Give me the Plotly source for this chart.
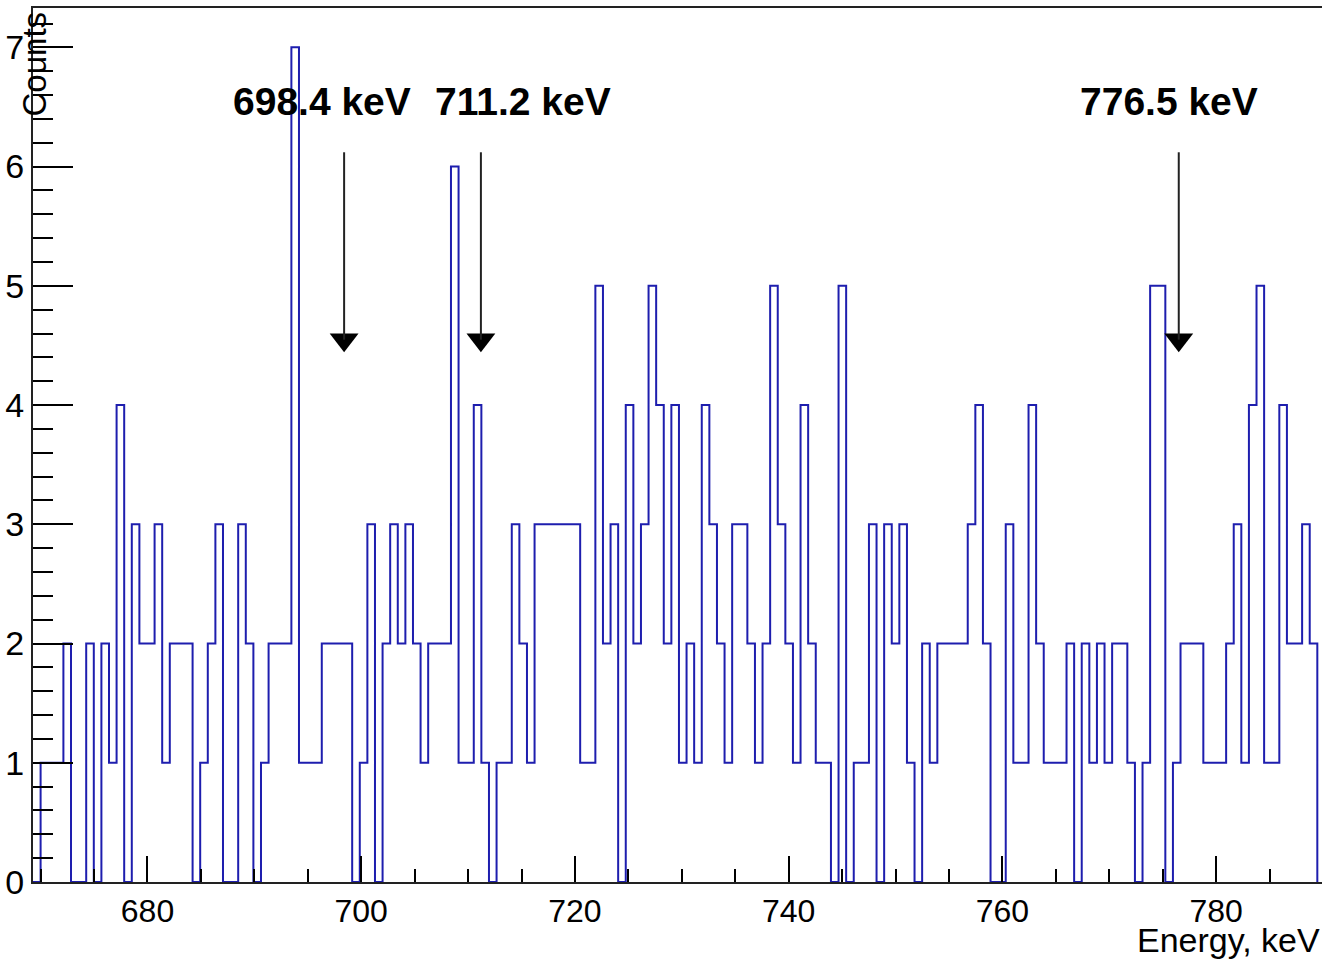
import plotly.graph_objects as go

# ---------------- data ----------------
bin_start = 669.289      # keV, lower edge of first bin
bin_width = 0.7111       # keV
counts = [
    0, 1, 1, 1, 2, 0, 0, 2, 0, 2,
    1, 4, 0, 3, 2, 2, 3, 1, 2, 2,
    2, 0, 1, 2, 3, 0, 0, 3, 2, 0,
    1, 2, 2, 2, 7, 1, 1, 1, 2, 2,
    2, 2, 0, 1, 3, 0, 2, 3, 2, 3,
    2, 1, 2, 2, 2, 6, 1, 1, 4, 1,
    0, 1, 1, 3, 2, 1, 3, 3, 3, 3,
    3, 3, 1, 1, 5, 2, 3, 0, 4, 2,
    3, 5, 4, 2, 4, 1, 2, 1, 4, 3,
    2, 1, 3, 3, 2, 1, 2, 5, 3, 2,
    1, 4, 2, 1, 1, 0, 5, 0, 1, 1,
    3, 0, 3, 2, 3, 1, 0, 2, 1, 2,
    2, 2, 2, 3, 4, 2, 0, 0, 3, 1,
    1, 4, 2, 1, 1, 1, 2, 0, 2, 1,
    2, 1, 2, 2, 1, 0, 1, 5, 5, 0,
    1, 2, 2, 2, 1, 1, 1, 2, 3, 1,
    4, 5, 1, 1, 4, 2, 2, 3, 2,
]
peak_energies = [698.4, 711.2, 776.5]
peak_labels = ["698.4 keV", "711.2 keV", "776.5 keV"]
x_ticks = [680, 700, 720, 740, 760, 780]

# ---------------- layout constants ----------------
W, H = 1322, 961
ML, MR, MT, MB = 33, 0, 8, 79
X_LO = bin_start
X_HI = bin_start + (W - ML - MR) / 10.687
Y_LO, Y_HI = 0.0, 7.33
FONT = "Liberation Sans"

label_x = [696.35, 715.14, 775.57]   # label centres (keV)
label_y = 6.55
arrow_top, arrow_tip = 6.12, 4.40
tri_size = 25

edges = [bin_start + i * bin_width for i in range(len(counts) + 1)]
hx = [edges[0]] + edges
hy = [0] + counts + [0]

fig = go.Figure()
fig.add_trace(go.Scatter(
    x=hx, y=hy, mode="lines", line=dict(color="#1e1eae", width=2, shape="hv"),
    hoverinfo="skip", showlegend=False,
))

# arrows
plot_h = H - MT - MB
px_per_unit = plot_h / (Y_HI - Y_LO)
tri_off = 0.7071 * tri_size / px_per_unit
for e in peak_energies:
    fig.add_shape(type="line", x0=e, x1=e, y0=arrow_top, y1=arrow_tip + tri_off,
                  line=dict(color="#222222", width=2))
fig.add_trace(go.Scatter(
    x=peak_energies, y=[arrow_tip + tri_off] * len(peak_energies), mode="markers",
    marker=dict(symbol="triangle-down", size=tri_size, color="black",
                line=dict(width=0)),
    hoverinfo="skip", showlegend=False,
))

for lx, txt in zip(label_x, peak_labels):
    fig.add_annotation(x=lx, y=label_y, text="<b>%s</b>" % txt, showarrow=False,
                       xanchor="center", yanchor="middle",
                       font=dict(family=FONT, size=39, color="black"))

fig.add_annotation(xref="paper", yref="paper", x=0, y=1, xshift=1, yshift=-2,
                   text="Counts", textangle=-90, showarrow=False,
                   xanchor="center", yanchor="top",
                   font=dict(family=FONT, size=33, color="black"))
fig.add_annotation(xref="paper", yref="paper", x=1, y=0, yshift=-79,
                   text="Energy, keV", showarrow=False,
                   xanchor="right", yanchor="bottom",
                   font=dict(family=FONT, size=34, color="black"))

fig.update_layout(
    width=W, height=H, margin=dict(l=ML, r=MR, t=MT, b=MB, pad=0),
    paper_bgcolor="white", plot_bgcolor="white",
    xaxis=dict(range=[X_LO, X_HI], tickmode="array", tickvals=x_ticks,
               ticks="inside", ticklen=26, tickwidth=2, tickcolor="black",
               minor=dict(tickmode="linear", tick0=680, dtick=5, ticks="inside",
                          ticklen=13, tickwidth=2, tickcolor="black"),
               showgrid=False, zeroline=False, showline=True, linecolor="#222222",
               linewidth=2, mirror=True, layer="above traces",
               tickfont=dict(family=FONT, size=32, color="black")),
    yaxis=dict(range=[Y_LO, Y_HI], tickmode="linear", tick0=0, dtick=1,
               ticks="inside", ticklen=40, tickwidth=2, tickcolor="black",
               minor=dict(tickmode="linear", tick0=0, dtick=0.2, ticks="inside",
                          ticklen=20, tickwidth=2, tickcolor="black"),
               showgrid=False, zeroline=False, showline=True, linecolor="#222222",
               linewidth=2, mirror=False, layer="above traces",
               tickfont=dict(family=FONT, size=34, color="black")),
)

fig.write_html("out.html")
